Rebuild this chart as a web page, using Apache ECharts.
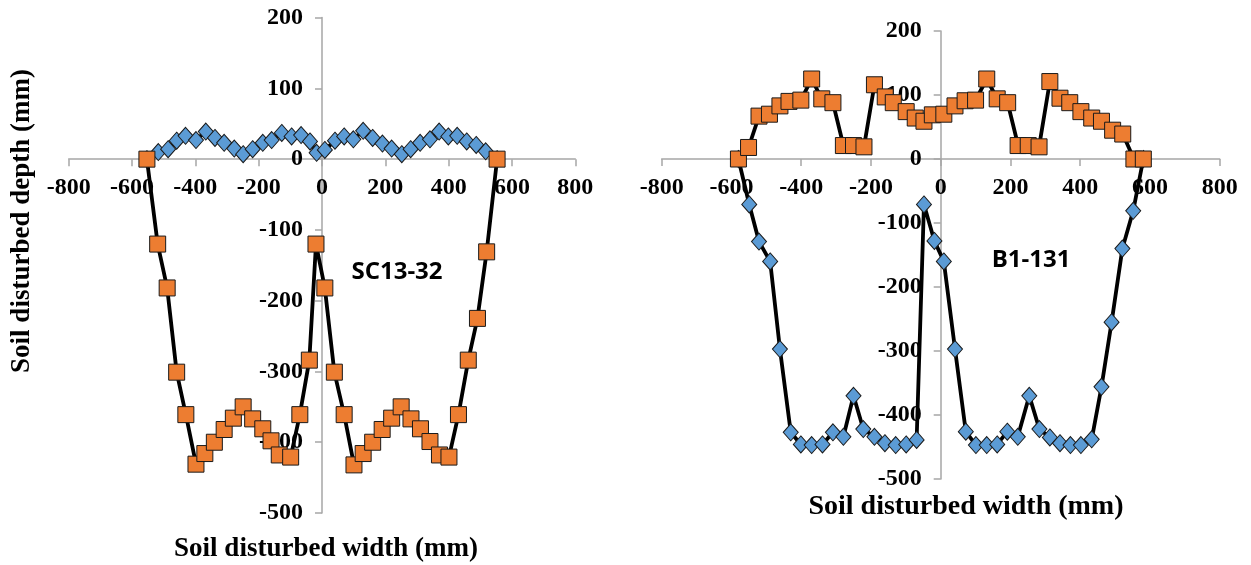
<!DOCTYPE html>
<html>
<head>
<meta charset="utf-8">
<script src="https://cdn.jsdelivr.net/npm/echarts@6/dist/echarts.min.js"></script>
<style>
html,body{margin:0;padding:0;background:#fff;}
#chart{width:1251px;height:565px;}
</style>
</head>
<body>
<div id="chart"></div>
<script>
// ---- Data: left chart (SC13-32) ----
const leftOrangeX = [-553,-519,-489,-459,-430,-398,-370,-340,-309,-280,-249,-219,-187,-161,-135,-99,-70,-40,-19,9,39,70,101,130,160,190,220,250,281,311,341,371,401,431,462,491,520,553];
const leftOrangeY = [0,-120,-182,-301,-361,-431,-416,-400,-382,-366,-350,-367,-381,-398,-418,-421,-361,-284,-120,-182,-301,-361,-432,-416,-400,-382,-366,-350,-367,-381,-399,-418,-421,-361,-284,-225,-131,0];
const leftBlueX = [-553,-517,-486,-459,-431,-398,-367,-338,-309,-277,-249,-219,-187,-159,-127,-96,-66,-38,-17,9,41,70,99,130,160,191,220,252,280,310,341,370,399,427,457,487,517,553];
const leftBlueY = [0,10,14,26,33,27,39,30,23,15,7,14,23,27,37,32,34,25,9,13,26,32,28,40,30,22,15,7,14,23,28,39,32,33,25,20,11,0];

// ---- Data: right chart (B1-131) ----
const rightOrangeX = [-580,-551,-521,-491,-461,-435,-401,-370,-341,-309,-279,-250,-220,-190,-159,-136,-99,-73,-48,-24,9,41,70,100,132,162,192,222,251,282,313,342,370,402,433,461,493,522,554,581];
const rightOrangeY = [0,18,67,70,83,90,92,125,94,88,21,21,19,116,97,88,74,64,59,69,70,83,91,92,125,94,88,21,21,19,121,95,88,74,64,59,45,39,0,0];
const rightBlueX = [-580,-549,-521,-489,-461,-430,-401,-370,-339,-309,-279,-250,-222,-190,-160,-129,-99,-69,-48,-18,9,41,72,101,132,162,191,221,254,283,313,342,372,402,433,461,490,521,552,581];
const rightBlueY = [0,-71,-129,-160,-297,-427,-446,-447,-446,-427,-434,-370,-422,-434,-444,-447,-446,-439,-71,-128,-160,-297,-426,-447,-447,-446,-426,-434,-370,-422,-435,-444,-447,-447,-438,-356,-255,-140,-81,0];

// ---- Axis settings ----
const xMin = -800, xMax = 800, xStep = 200;
const yMin = -500, yMax = 200, yStep = 100;
const xName = 'Soil disturbed width (mm)';
const yName = 'Soil disturbed depth (mm)';
const labelLeft = 'SC13-32';
const labelRight = 'B1-131';

const zip = (xs, ys) => xs.map((x, i) => [x, ys[i]]);

const ORANGE = '#ED7D31', BLUE = '#5B9BD5', AXIS = '#a6a6a6';
const tickFont = {fontFamily:'Liberation Serif', fontWeight:'bold', fontSize:24, color:'#000'};

const grids = [
  {left:68.7, top:17.6, width:506.6, height:495.4},
  {left:661.7, top:31, width:558, height:448}
];
// offsets that put each axis through the other axis's zero
function xOffset(g){ return -(g.height * (0 - yMin) / (yMax - yMin)); }
function yOffset(g){ return -(g.width * (0 - xMin) / (xMax - xMin)); }

function xAxisCfg(gridIndex){
  return {type:'value', gridIndex, min:xMin, max:xMax, interval:xStep,
    position:'bottom', offset:xOffset(grids[gridIndex]),
    splitLine:{show:false},
    axisLine:{show:true, onZero:false, lineStyle:{color:AXIS, width:1.5}},
    axisTick:{show:true, length:7, lineStyle:{color:AXIS, width:1.5}},
    axisLabel:Object.assign({margin:17}, tickFont)};
}
function yAxisCfg(gridIndex){
  return {type:'value', gridIndex, min:yMin, max:yMax, interval:yStep,
    position:'left', offset:yOffset(grids[gridIndex]),
    splitLine:{show:false},
    axisLine:{show:true, onZero:false, lineStyle:{color:AXIS, width:1.5}},
    axisTick:{show:true, length:7, lineStyle:{color:AXIS, width:1.5}},
    axisLabel:Object.assign({margin:19}, tickFont)};
}
function lineSeries(idx, data, symbol, color, size){
  return {type:'line', xAxisIndex:idx, yAxisIndex:idx, data, symbol, symbolSize:size,
    showAllSymbol:true, smooth:false,
    lineStyle:{color:'#000', width:3.8},
    itemStyle:{color, borderColor:'#1a1a1a', borderWidth:1}};
}

const chart = echarts.init(document.getElementById('chart'));
chart.setOption({
  animation:false,
  backgroundColor:'#fff',
  grid:grids.map(g => Object.assign({containLabel:false}, g)),
  xAxis:[xAxisCfg(0), xAxisCfg(1)],
  yAxis:[yAxisCfg(0), yAxisCfg(1)],
  series:[
    lineSeries(0, zip(leftBlueX, leftBlueY), 'diamond', BLUE, [15,17]),
    lineSeries(0, zip(leftOrangeX, leftOrangeY), 'rect', ORANGE, 16),
    lineSeries(1, zip(rightBlueX, rightBlueY), 'diamond', BLUE, [15,17]),
    lineSeries(1, zip(rightOrangeX, rightOrangeY), 'rect', ORANGE, 16)
  ],
  graphic:[
    {type:'text', x:326, y:549, style:{text:xName, font:'bold 27px "Liberation Serif"', fill:'#000', align:'center', verticalAlign:'middle'}},
    {type:'text', x:22, y:221, rotation:Math.PI/2, style:{text:yName, font:'bold 27px "Liberation Serif"', fill:'#000', align:'center', verticalAlign:'middle'}},
    {type:'text', x:966, y:507, style:{text:xName, font:'bold 28px "Liberation Serif"', fill:'#000', align:'center', verticalAlign:'middle'}},
    {type:'text', x:397, y:272, style:{text:labelLeft, font:'bold 24px "Open Sans"', fill:'#000', align:'center', verticalAlign:'middle'}},
    {type:'text', x:1031, y:260, style:{text:labelRight, font:'bold 24px "Open Sans"', fill:'#000', align:'center', verticalAlign:'middle'}}
  ]
});
</script>
</body>
</html>
